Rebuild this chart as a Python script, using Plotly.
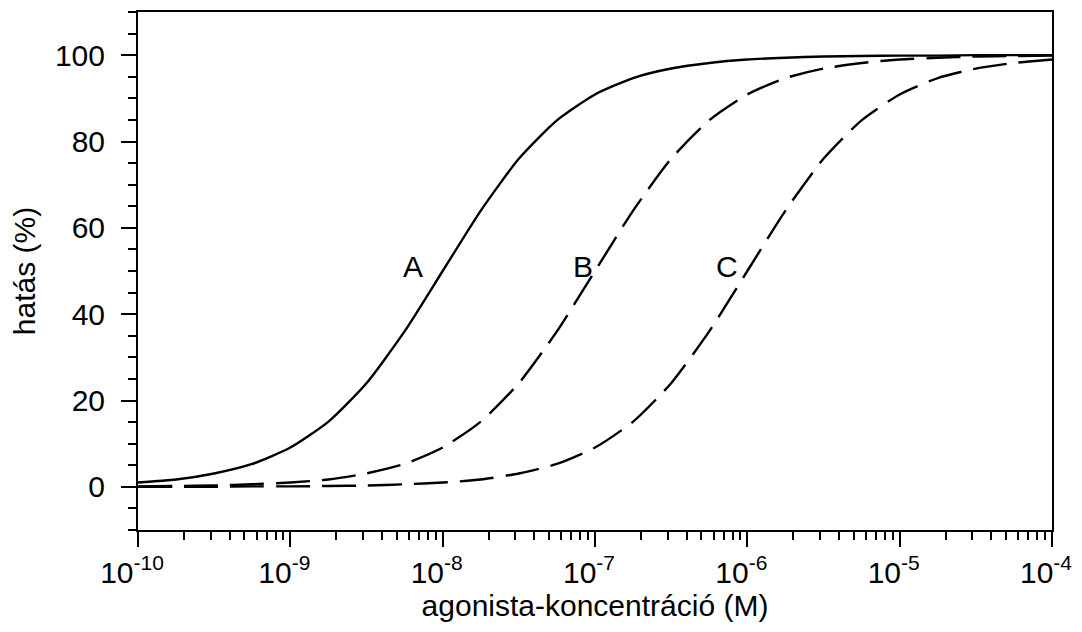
import math
import plotly.graph_objects as go

# agonist concentrations (M), quarter-decade steps from 1e-10 to 1e-4
conc = [1e-10, 1.78e-10, 3.16e-10, 5.62e-10,
        1e-9, 1.78e-9, 3.16e-9, 5.62e-9,
        1e-8, 1.78e-8, 3.16e-8, 5.62e-8,
        1e-7, 1.78e-7, 3.16e-7, 5.62e-7,
        1e-6, 1.78e-6, 3.16e-6, 5.62e-6,
        1e-5, 1.78e-5, 3.16e-5, 5.62e-5,
        1e-4]

# effect (%)
effect_A = [1.0, 1.7, 3.1, 5.3, 9.1, 15.1, 24.0, 36.0, 50.0, 64.0, 76.0, 84.9,
            90.9, 94.7, 96.9, 98.2, 99.0, 99.4, 99.7, 99.8, 99.9, 99.9, 100.0, 100.0, 100.0]
effect_B = [0.1, 0.2, 0.3, 0.6, 1.0, 1.7, 3.1, 5.3, 9.1, 15.1, 24.0, 36.0,
            50.0, 64.0, 76.0, 84.9, 90.9, 94.7, 96.9, 98.2, 99.0, 99.4, 99.7, 99.8, 99.9]
effect_C = [0.0, 0.0, 0.0, 0.1, 0.1, 0.2, 0.3, 0.6, 1.0, 1.7, 3.1, 5.3,
            9.1, 15.1, 24.0, 36.0, 50.0, 64.0, 76.0, 84.9, 90.9, 94.7, 96.9, 98.2, 99.0]

curve_labels = ["A", "B", "C"]
x_tick_vals = [1e-10, 1e-9, 1e-8, 1e-7, 1e-6, 1e-5, 1e-4]
x_tick_text = ["10<sup>-10</sup>", "10<sup>-9</sup>", "10<sup>-8</sup>", "10<sup>-7</sup>",
               "10<sup>-6</sup>", "10<sup>-5</sup>", "10<sup>-4</sup>"]
y_tick_vals = [0, 20, 40, 60, 80, 100]

FONT = "Arial, Liberation Sans, sans-serif"
FS = 30

fig = go.Figure()
fig.add_trace(go.Scatter(x=conc, y=effect_A, mode="lines", name="A",
                         line=dict(color="black", width=2.4, shape="spline", smoothing=0.6)))
fig.add_trace(go.Scatter(x=conc, y=effect_B, mode="lines", name="B",
                         line=dict(color="black", width=2.4, dash="34px,12px", shape="spline", smoothing=0.6)))
fig.add_trace(go.Scatter(x=conc, y=effect_C, mode="lines", name="C",
                         line=dict(color="black", width=2.4, dash="34px,12px", shape="spline", smoothing=0.6)))

label_pos = [(6.4e-9, 51), (8.4e-8, 51), (7.3e-7, 51)]
for txt, (lx, ly) in zip(curve_labels, label_pos):
    fig.add_annotation(x=math.log10(lx), y=ly, xref="x", yref="y", text=txt, showarrow=False,
                       font=dict(family=FONT, size=FS, color="black"))

minor_x = [m * 10.0 ** e for e in range(-10, -4) for m in range(2, 10)]

fig.update_xaxes(type="log", range=[-10, -4],
                 tickvals=x_tick_vals, ticktext=x_tick_text,
                 ticks="outside", ticklen=15, tickwidth=2, tickcolor="black",
                 ticklabeloverflow="allow", ticklabelshift=-6,
                 showline=True, linewidth=2, linecolor="black", mirror=True,
                 showgrid=False, zeroline=False,
                 tickfont=dict(family=FONT, size=FS, color="black"),
                 minor=dict(tickvals=minor_x, ticks="outside", ticklen=8, tickwidth=2,
                            tickcolor="black", showgrid=False),
                 title=dict(text="agonista-koncentráció (M)", standoff=6,
                            font=dict(family=FONT, size=FS, color="black")))
fig.update_yaxes(range=[-10, 110], tickvals=y_tick_vals,
                 ticks="outside", ticklen=15, tickwidth=2, tickcolor="black",
                 showline=True, linewidth=2, linecolor="black", mirror=True,
                 showgrid=False, zeroline=False,
                 ticklabelstandoff=10,
                 tickfont=dict(family=FONT, size=FS, color="black"),
                 minor=dict(dtick=5, ticks="outside", ticklen=8, tickwidth=2,
                            tickcolor="black", showgrid=False),
                 title=dict(text="hatás (%)", standoff=10,
                            font=dict(family=FONT, size=FS, color="black")))

fig.update_layout(width=1082, height=632,
                  margin=dict(l=138, r=24, t=10, b=102),
                  paper_bgcolor="white", plot_bgcolor="white",
                  showlegend=False)

# remove the browser's default page margin so the figure fills the window exactly
fig.write_html("out.html",
               config={"displayModeBar": False},
               post_script="document.body.style.margin='0';document.body.style.overflow='hidden';")
